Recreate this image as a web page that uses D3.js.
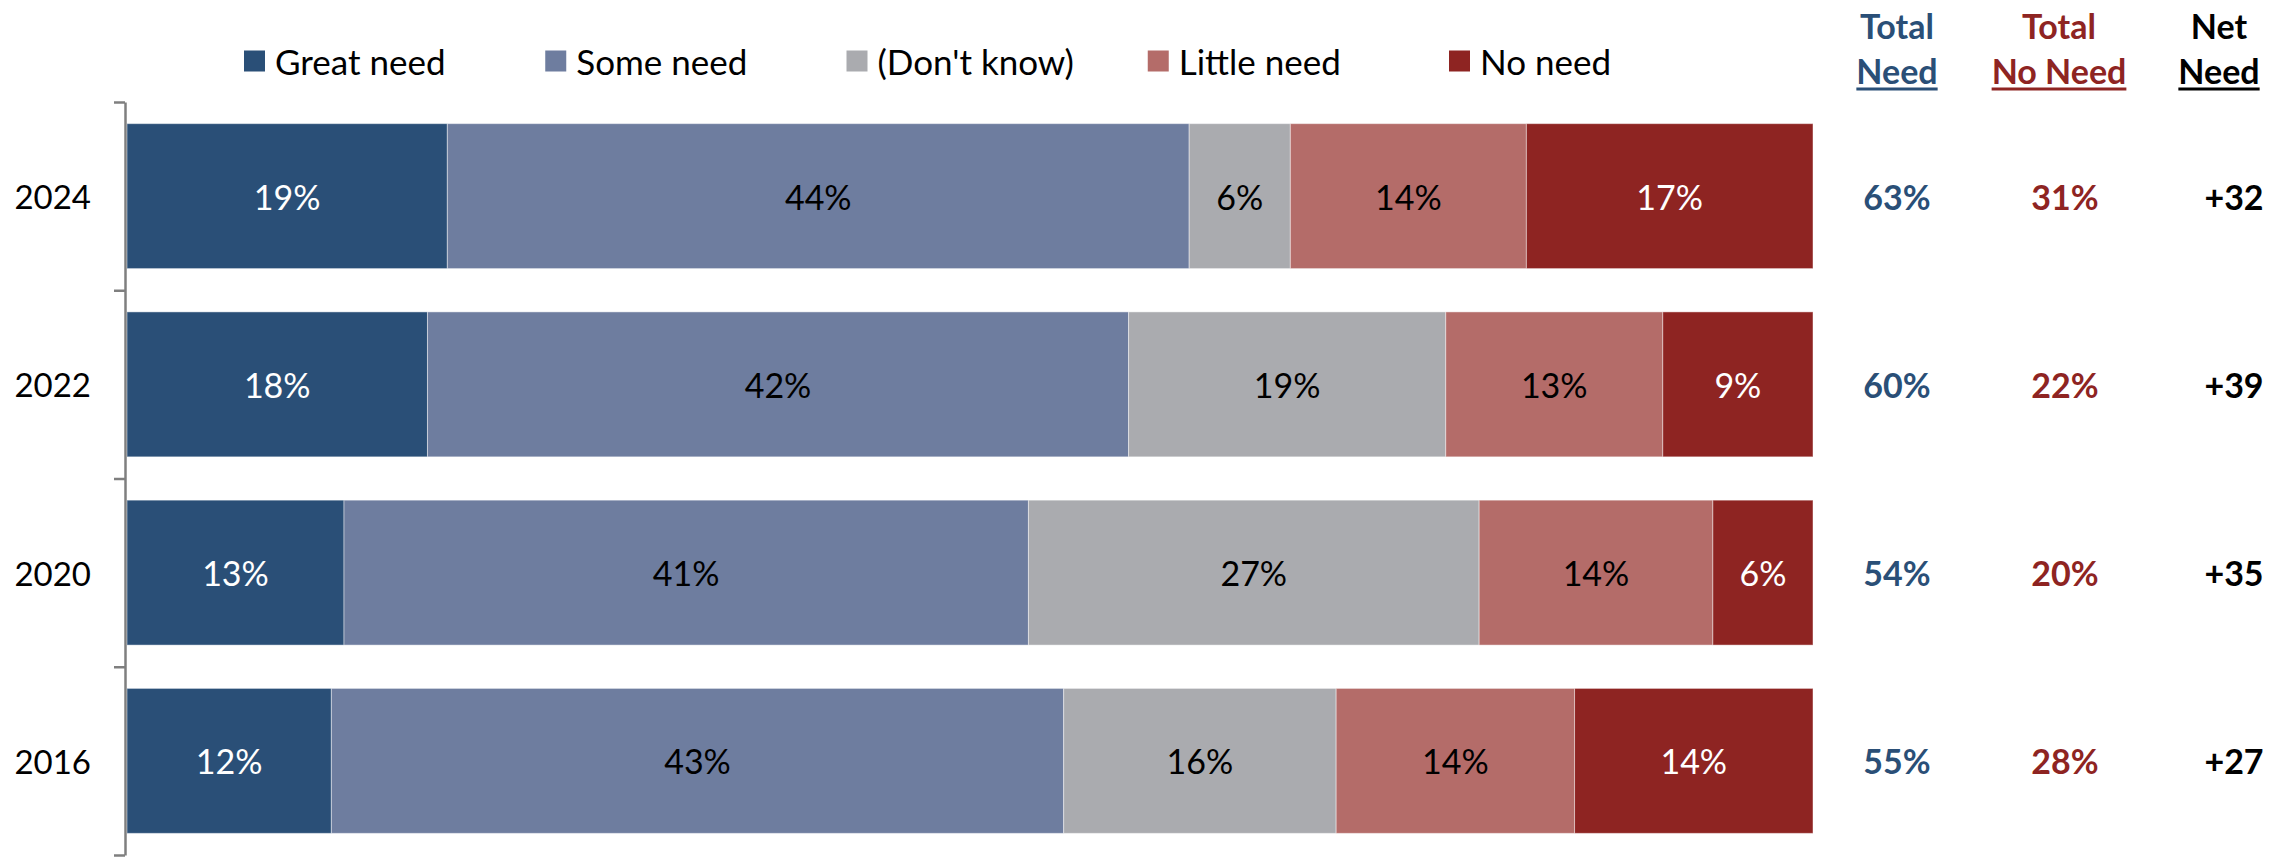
<!DOCTYPE html>
<html>
<head>
<meta charset="utf-8">
<script src="https://cdn.jsdelivr.net/npm/d3@7"></script>
<style>
  body { margin: 0; background: #fff; }
  svg { display: block; font-family: Lato, "Open Sans", sans-serif; }
</style>
</head>
<body>
<svg id="chart" width="2293" height="857"></svg>
<script>
// Data
const years = ["2024", "2022", "2020", "2016"];
const keys = ["Great need", "Some need", "(Don't know)", "Little need", "No need"];
const greatNeed = [19, 18, 13, 12];
const someNeed = [44, 42, 41, 43];
const dontKnow = [6, 19, 27, 16];
const littleNeed = [14, 13, 14, 14];
const noNeed = [17, 9, 6, 14];
const totalNeed = [63, 60, 54, 55];
const totalNoNeed = [31, 22, 20, 28];
const netNeed = [32, 39, 35, 27];

// Rows for the stack
const rows = years.map((y, i) => ({
  year: y,
  "Great need": greatNeed[i],
  "Some need": someNeed[i],
  "(Don't know)": dontKnow[i],
  "Little need": littleNeed[i],
  "No need": noNeed[i]
}));

const colors = ["#2a4f77", "#6e7d9f", "#aaabaf", "#b46c69", "#8e2422"];
const labelColors = ["#fff", "#000", "#000", "#000", "#fff"];

const svg = d3.select("#chart");

const x = d3.scaleLinear().domain([0, 1]).range([127, 1813]);
const y = d3.scaleBand().domain(years).range([102, 855]).paddingInner(0.23).paddingOuter(0.115);
const color = d3.scaleOrdinal(keys, colors);

// bars add up to 100% in the picture, so normalise each row
const stack = d3.stack().keys(keys).offset(d3.stackOffsetExpand);
const series = stack(rows);

const groups = svg.selectAll("g.series")
  .data(series)
  .enter()
  .append("g")
  .attr("class", "series");

groups.selectAll("rect")
  .data(d => d)
  .enter()
  .append("rect")
  .attr("x", d => x(d[0]))
  .attr("y", d => y(d.data.year))
  .attr("width", d => x(d[1]) - x(d[0]))
  .attr("height", y.bandwidth())
  .attr("fill", function() { return color(d3.select(this.parentNode).datum().key); })
  .attr("stroke", "#fff")
  .attr("stroke-opacity", 0.45)
  .attr("stroke-width", 1);

// Labels inside the segments
groups.each(function(s, si) {
  d3.select(this).selectAll("text")
    .data(s)
    .enter()
    .append("text")
    .attr("x", d => (x(d[0]) + x(d[1])) / 2)
    .attr("y", d => y(d.data.year) + y.bandwidth() / 2)
    .attr("text-anchor", "middle")
    .attr("dominant-baseline", "central")
    .style("font-size", "34px")
    .style("fill", labelColors[si])
    .text(d => d.data[s.key] + "%");
});

// Category axis with ticks between the bars
const tickScale = d3.scaleLinear().domain([0, years.length]).range(y.range());
const axis = svg.append("g")
  .attr("transform", "translate(125,0)")
  .call(d3.axisLeft(tickScale).tickValues(d3.range(years.length + 1)).tickFormat("").tickSizeInner(11).tickSizeOuter(0));
axis.selectAll("path, line").attr("stroke", "#7f7f7f").attr("stroke-width", 2.5);

// Year labels
svg.selectAll("text.year")
  .data(years)
  .enter()
  .append("text")
  .attr("class", "year")
  .attr("x", 91)
  .attr("y", d => y(d) + y.bandwidth() / 2)
  .attr("text-anchor", "end")
  .attr("dominant-baseline", "central")
  .style("font-size", "33px")
  .style("fill", "#000")
  .text(d => d);

// Legend
const legendX = d3.scalePoint().domain(keys).range([244, 1449]);
const legend = svg.selectAll("g.legend")
  .data(keys)
  .enter()
  .append("g")
  .attr("class", "legend")
  .attr("transform", d => `translate(${legendX(d)}, 61)`);

legend.append("rect")
  .attr("x", 0)
  .attr("y", -10.5)
  .attr("width", 21)
  .attr("height", 21)
  .attr("fill", d => color(d));

legend.append("text")
  .attr("x", 31)
  .attr("y", 0)
  .attr("dominant-baseline", "central")
  .style("font-size", "35px")
  .style("fill", "#000")
  .text(d => d);

// Summary columns on the right
const columns = [
  { top: "Total", bottom: "Need", hx: 1897, vx: 1897, fill: "#2a4f77", values: totalNeed.map(v => v + "%") },
  { top: "Total", bottom: "No Need", hx: 2059, vx: 2065, fill: "#8e2422", values: totalNoNeed.map(v => v + "%") },
  { top: "Net", bottom: "Need", hx: 2219, vx: 2234, fill: "#000", values: netNeed.map(v => "+" + v) }
];

columns.forEach(col => {
  const g = svg.append("g")
    .style("font-size", "34px")
    .style("font-weight", "bold")
    .style("fill", col.fill);

  g.append("text")
    .attr("x", col.hx)
    .attr("y", 25)
    .attr("text-anchor", "middle")
    .attr("dominant-baseline", "central")
    .text(col.top);

  const bottom = g.append("text")
    .attr("x", col.hx)
    .attr("y", 70)
    .attr("text-anchor", "middle")
    .attr("dominant-baseline", "central")
    .text(col.bottom);

  // underline the second header line
  const w = bottom.node().getComputedTextLength();
  g.append("line")
    .attr("x1", col.hx - w / 2)
    .attr("x2", col.hx + w / 2)
    .attr("y1", 89)
    .attr("y2", 89)
    .attr("stroke", col.fill)
    .attr("stroke-width", 3);

  g.selectAll("text.val")
    .data(col.values)
    .enter()
    .append("text")
    .attr("class", "val")
    .attr("x", col.vx)
    .attr("y", (d, i) => y(years[i]) + y.bandwidth() / 2)
    .attr("text-anchor", "middle")
    .attr("dominant-baseline", "central")
    .text(d => d);
});
</script>
</body>
</html>
